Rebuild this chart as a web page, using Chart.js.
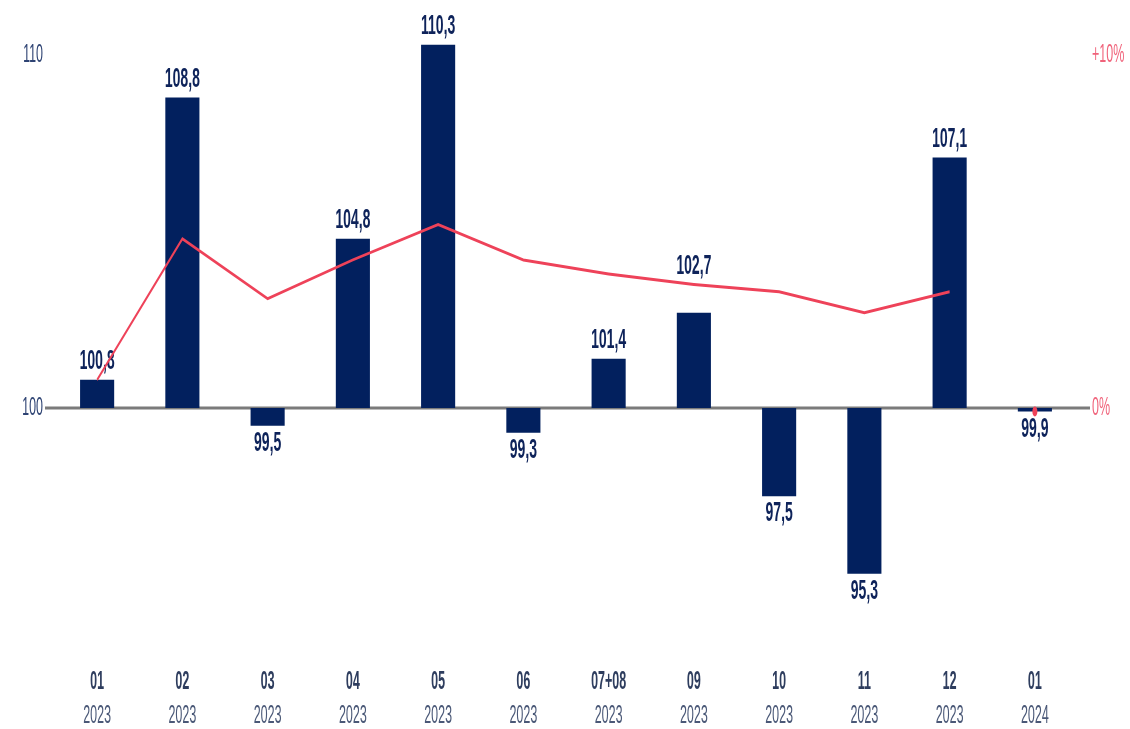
<!DOCTYPE html>
<html>
<head>
<meta charset="utf-8">
<script src="https://cdn.jsdelivr.net/npm/chart.js@4.4.1/dist/chart.umd.min.js"></script>
<style>
    html, body { margin: 0; background: #fff; overflow: hidden; }
    canvas { display: block; }
</style>
</head>
<body>
<!-- drawn twice as wide, then squeezed: the reference uses a narrow typeface -->
<canvas id="indexChart" width="2260" height="729" style="width:1130px;height:729px"></canvas>
<script>
// ─── Data ─────────────────────────────────────────────────
const months = ['01', '02', '03', '04', '05', '06', '07+08', '09', '10', '11', '12', '01'];
const years  = ['2023', '2023', '2023', '2023', '2023', '2023', '2023', '2023', '2023', '2023', '2023', '2024'];

// index, previous month = 100
const indexValues = [100.8, 108.8, 99.5, 104.8, 110.3, 99.3, 101.4, 102.7, 97.5, 95.3, 107.1, 99.9];

// cumulative change since start of year, %
const cumulativeChange = [0.8, 4.8, 3.1, 4.2, 5.2, 4.2, 3.8, 3.5, 3.3, 2.7, 3.3, null];
const latestChange     = [null, null, null, null, null, null, null, null, null, null, null, -0.1];

const leftTicks  = [100, 110];
const rightTicks = [0, 10];

// ─── Styles ───────────────────────────────────────────────
const NAVY   = '#02205e';
const RED    = '#ee4259';
const FAMILY = '"Liberation Sans", Arial, sans-serif';

const fmtComma = (v) => v.toFixed(1).replace('.', ',');

// y axes: fixed width, and no extra room reserved for the labels at the ends
const fixAxis = (width) => (s) => {
    s.width = width;
    s.paddingTop = 0;
    s.paddingBottom = 0;
};

// ─── Plugins ──────────────────────────────────────────────
const baselinePlugin = {
    id: 'baseline',
    beforeDatasetsDraw(chart) {
        const { ctx, chartArea, scales } = chart;
        const y = scales.y.getPixelForValue(100);
        ctx.save();
        ctx.strokeStyle = '#7b7b7b';
        ctx.lineWidth = 3;
        ctx.beginPath();
        ctx.moveTo(chartArea.left - 19, y);
        ctx.lineTo(chartArea.right + 25, y);
        ctx.stroke();
        ctx.restore();
    }
};

const barLabelPlugin = {
    id: 'barLabels',
    afterDatasetDraw(chart, args) {
        if (args.index !== 0) return;
        const ctx = chart.ctx;
        const lineMeta = chart.getDatasetMeta(1);
        ctx.save();
        ctx.font = 'bold 28px ' + FAMILY;
        ctx.fillStyle = '#0e235a';
        ctx.textAlign = 'center';
        ctx.textBaseline = 'alphabetic';
        args.meta.data.forEach((bar, i) => {
            const v = indexValues[i];
            const text = fmtComma(v);
            if (v >= 100) {
                let top = bar.y;
                // lift the label over the line when the line sits just above the bar
                if (cumulativeChange[i] != null) {
                    const pt = lineMeta.data[i];
                    if (pt.y < top && top - pt.y < 45) top = pt.y;
                }
                ctx.fillText(text, bar.x, top - 11);
            } else {
                ctx.fillText(text, bar.x, bar.y + 25);
            }
        });
        ctx.restore();
    }
};

// ─── Chart ────────────────────────────────────────────────
new Chart(document.getElementById('indexChart'), {
    data: {
        labels: months,
        datasets: [
            {
                type: 'bar',
                data: indexValues,
                base: 100,
                yAxisID: 'y',
                backgroundColor: NAVY,
                barPercentage: 0.4,
                categoryPercentage: 1,
                order: 1,
            },
            {
                type: 'line',
                data: cumulativeChange,
                yAxisID: 'y1',
                borderColor: RED,
                borderWidth: 3,
                pointRadius: 0,
                tension: 0,
                order: 0,
            },
            {
                type: 'line',
                data: latestChange,
                yAxisID: 'y1',
                showLine: false,
                pointRadius: 5,
                pointBackgroundColor: RED,
                pointBorderWidth: 0,
                order: 0,
            }
        ]
    },
    options: {
        responsive: false,
        devicePixelRatio: 1,
        animation: false,
        layout: { padding: { top: 20, left: 0, right: 0, bottom: 0 } },
        plugins: {
            legend: { display: false },
            tooltip: { enabled: false }
        },
        scales: {
            x: {
                type: 'category',
                position: 'bottom',
                weight: 0,
                offset: true,
                grid: { display: false, drawTicks: false },
                border: { display: false },
                ticks: {
                    autoSkip: false, maxRotation: 0, padding: 12,
                    color: '#2e3d5e',
                    font: { family: FAMILY, size: 25, weight: 'bold' }
                },
                afterFit: (s) => { s.height = 45; }
            },
            x2: {
                type: 'category',
                labels: years,
                position: 'bottom',
                weight: 1,
                offset: true,
                grid: { display: false, drawTicks: false },
                border: { display: false },
                ticks: {
                    autoSkip: false, maxRotation: 0, padding: 1,
                    color: '#4a5877',
                    font: { family: FAMILY, size: 25 }
                },
                afterFit: (s) => { s.height = 29; }
            },
            y: {
                position: 'left',
                min: 93,
                max: 111,
                grid: { display: false, drawTicks: false },
                border: { display: false },
                afterBuildTicks: (s) => { s.ticks = leftTicks.map(v => ({ value: v })); },
                afterFit: fixAxis(109),
                ticks: {
                    padding: 23,
                    color: '#2e4373',
                    font: { family: FAMILY, size: 25 },
                    callback: (v) => String(v)
                }
            },
            y1: {
                position: 'right',
                min: -7,
                max: 11,
                grid: { display: false, drawTicks: false },
                border: { display: false },
                afterBuildTicks: (s) => { s.ticks = rightTicks.map(v => ({ value: v })); },
                afterFit: fixAxis(105),
                ticks: {
                    padding: 29,
                    color: '#f0627a',
                    font: { family: FAMILY, size: 25 },
                    callback: (v) => (v > 0 ? '+' : '') + v + '%'
                }
            }
        }
    },
    plugins: [baselinePlugin, barLabelPlugin]
});
</script>
</body>
</html>
